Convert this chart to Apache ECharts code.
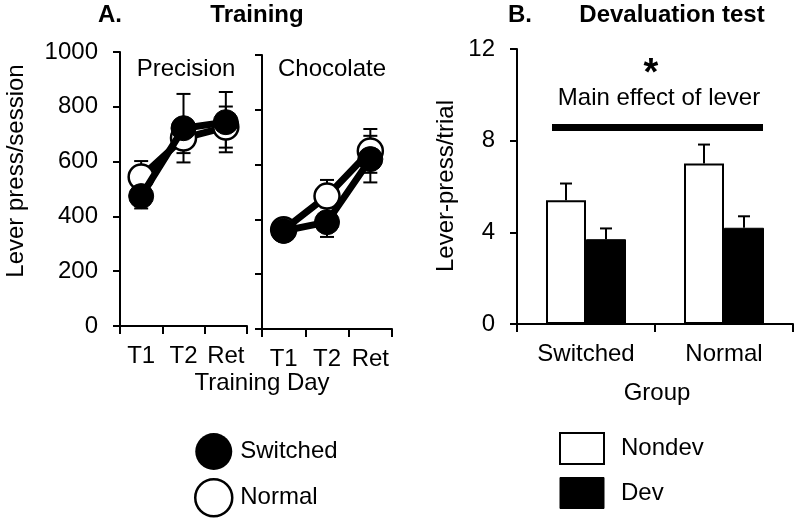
<!DOCTYPE html>
<html><head><meta charset="utf-8">
<script src="https://cdn.jsdelivr.net/npm/echarts@6/dist/echarts.min.js"></script>
<style>html,body{margin:0;padding:0;background:#fff}#c{width:800px;height:520px}</style>
</head><body><div id="c"></div>
<script>
// ---- data ----
const days = ['T1', 'T2', 'Ret'];
const precisionSwitched = [474, 722, 744];
const precisionSwitchedErr = [45, 125, 110];
const precisionNormal = [544, 686, 726];
const precisionNormalErr = [58, 55, 75];
const chocolateSwitched = [358, 390, 620];
const chocolateSwitchedErr = [20, 54, 85];
const chocolateNormal = [362, 485, 650];
const chocolateNormalErr = [20, 59, 80];
const groups = ['Switched', 'Normal'];
const nondev = [5.4, 7.0];
const nondevErr = [0.73, 0.83];
const dev = [3.7, 4.2];
const devErr = [0.47, 0.5];
const yMaxA = 1000, yStepA = 200;
const yMaxB = 12, yStepB = 4;

// ---- styling ----
const FONT = 'Liberation Sans, Arial, sans-serif';
const FS = 24;
const BAR_W = 40;
const black = '#000';

const chart = echarts.init(document.getElementById('c'), null, {renderer: 'canvas'});

function errRender(params, api) {
  const x = api.value(0), y = api.value(1), e = api.value(2);
  const t = api.coord([x, y + e]), b = api.coord([x, y - e]);
  const hw = 7, st = {stroke: black, lineWidth: 2};
  return {type: 'group', children: [
    {type: 'line', shape: {x1: t[0], y1: t[1], x2: b[0], y2: b[1]}, style: st},
    {type: 'line', shape: {x1: t[0] - hw, y1: t[1], x2: t[0] + hw, y2: t[1]}, style: st},
    {type: 'line', shape: {x1: b[0] - hw, y1: b[1], x2: b[0] + hw, y2: b[1]}, style: st}
  ]};
}
function barErrRender(sign) {
  return function (params, api) {
    const x = api.value(0), y = api.value(1), e = api.value(2);
    const c = api.coord([x, y]), t = api.coord([x, y + e]);
    const px = c[0] + sign * BAR_W / 2;
    const hw = 6, st = {stroke: black, lineWidth: 2};
    return {type: 'group', children: [
      {type: 'line', shape: {x1: px, y1: c[1], x2: px, y2: t[1]}, style: st},
      {type: 'line', shape: {x1: px - hw, y1: t[1], x2: px + hw, y2: t[1]}, style: st}
    ]};
  };
}
const zip3 = (v, e) => v.map((val, i) => [i, val, e[i]]);

const axisLineSt = {show: true, lineStyle: {color: black, width: 2}};
const tickSt = (len) => ({show: true, length: len, lineStyle: {color: black, width: 2}});
const labelSt = (m, show) => ({show: show !== false, color: black, fontSize: FS, fontFamily: FONT, margin: m,
  interval: 0, hideOverlap: false, formatter: (v) => String(v)});

function catAxis(grid, data) {
  return {type: 'category', gridIndex: grid, data: data, boundaryGap: true,
    axisLine: axisLineSt, axisTick: tickSt(8), axisLabel: labelSt(18), splitLine: {show: false}};
}
function valAxis(grid, max, step, showLabel) {
  return {type: 'value', gridIndex: grid, min: 0, max: max, interval: step,
    axisLine: axisLineSt, axisTick: tickSt(7), axisLabel: labelSt(22, showLabel), splitLine: {show: false}};
}

const openStyle = {color: '#fff', borderColor: black, borderWidth: 2.5};
const fillStyle = {color: black, borderColor: black, borderWidth: 1};

function lineSeries(name, grid, vals, style, z) {
  return {type: 'line', name: name, xAxisIndex: grid, yAxisIndex: grid, data: vals,
    symbol: 'circle', symbolSize: 25, showSymbol: true, z: z,
    lineStyle: {color: black, width: 7}, itemStyle: style, emphasis: {disabled: true}};
}
function errSeries(grid, vals, errs) {
  return {type: 'custom', xAxisIndex: grid, yAxisIndex: grid, data: zip3(vals, errs),
    renderItem: errRender, z: 1, silent: true};
}

function txt(x, y, text, opt) {
  return Object.assign({type: 'text', x: x, y: y, silent: true,
    style: Object.assign({text: text, fill: black, fontSize: FS, fontFamily: FONT,
      align: 'center', verticalAlign: 'middle'}, opt && opt.style)}, opt && opt.el);
}

const option = {
  animation: false,
  backgroundColor: '#fff',
  textStyle: {fontFamily: FONT},
  grid: [
    {left: 120, top: 52, width: 127, height: 274},
    {left: 262, top: 55, width: 130, height: 274},
    {left: 517, top: 49, width: 276, height: 275}
  ],
  xAxis: [catAxis(0, days), catAxis(1, days), catAxis(2, groups)],
  yAxis: [valAxis(0, yMaxA, yStepA), valAxis(1, yMaxA, yStepA, false), valAxis(2, yMaxB, yStepB)],
  legend: [
    {left: 194, top: 433, orient: 'vertical', itemWidth: 37, itemHeight: 37, itemGap: 8, padding: 0,
      selectedMode: false,
      textStyle: {fontSize: FS, color: black, fontFamily: FONT, padding: [0, 0, 0, 3]},
      data: [{name: 'Switched', icon: 'circle', itemStyle: {color: black, borderColor: black, borderWidth: 0}},
             {name: 'Normal', icon: 'circle', itemStyle: openStyle}]},
    {left: 559, top: 432, orient: 'vertical', itemWidth: 44, itemHeight: 31, itemGap: 12, padding: 0,
      selectedMode: false,
      textStyle: {fontSize: FS, color: black, fontFamily: FONT, padding: [0, 0, 0, 12]},
      data: [{name: 'Nondev', icon: 'rect', itemStyle: {color: '#fff', borderColor: black, borderWidth: 2}},
             {name: 'Dev', icon: 'rect', itemStyle: {color: black, borderColor: black, borderWidth: 1}}]}
  ],
  series: [
    errSeries(0, precisionNormal, precisionNormalErr),
    errSeries(0, precisionSwitched, precisionSwitchedErr),
    errSeries(1, chocolateNormal, chocolateNormalErr),
    errSeries(1, chocolateSwitched, chocolateSwitchedErr),
    lineSeries('Normal', 0, precisionNormal, openStyle, 2),
    lineSeries('Switched', 0, precisionSwitched, fillStyle, 3),
    lineSeries('Normal', 1, chocolateNormal, openStyle, 2),
    lineSeries('Switched', 1, chocolateSwitched, fillStyle, 3),
    {type: 'custom', xAxisIndex: 2, yAxisIndex: 2, data: zip3(nondev, nondevErr), renderItem: barErrRender(-1), z: 1, silent: true},
    {type: 'custom', xAxisIndex: 2, yAxisIndex: 2, data: zip3(dev, devErr), renderItem: barErrRender(1), z: 1, silent: true},
    {type: 'bar', name: 'Nondev', xAxisIndex: 2, yAxisIndex: 2, data: nondev, barWidth: BAR_W, barGap: '0%', z: 2,
      itemStyle: {color: '#fff', borderColor: black, borderWidth: 2}, emphasis: {disabled: true}},
    {type: 'bar', name: 'Dev', xAxisIndex: 2, yAxisIndex: 2, data: dev, barWidth: BAR_W, barGap: '0%', z: 2,
      itemStyle: {color: black, borderColor: black, borderWidth: 1}, emphasis: {disabled: true}}
  ],
  graphic: [
    txt(110, 15, 'A.', {style: {fontWeight: 'bold'}}),
    txt(257, 15, 'Training', {style: {fontWeight: 'bold'}}),
    txt(520, 15, 'B.', {style: {fontWeight: 'bold'}}),
    txt(672, 15, 'Devaluation test', {style: {fontWeight: 'bold'}}),
    txt(186, 69, 'Precision'),
    txt(332, 69, 'Chocolate'),
    txt(262, 383, 'Training Day'),
    txt(657, 393, 'Group'),
    txt(16, 171, 'Lever press/session', {el: {rotation: Math.PI / 2}}),
    txt(446, 186, 'Lever-press/trial', {el: {rotation: Math.PI / 2}}),
    txt(659, 98, 'Main effect of lever'),
    txt(651, 75, '*', {style: {fontWeight: 'bold', fontSize: 38}}),
    {type: 'rect', silent: true, shape: {x: 552, y: 124, width: 211, height: 7}, style: {fill: black}}
  ]
};
chart.setOption(option);
</script>
</body></html>
